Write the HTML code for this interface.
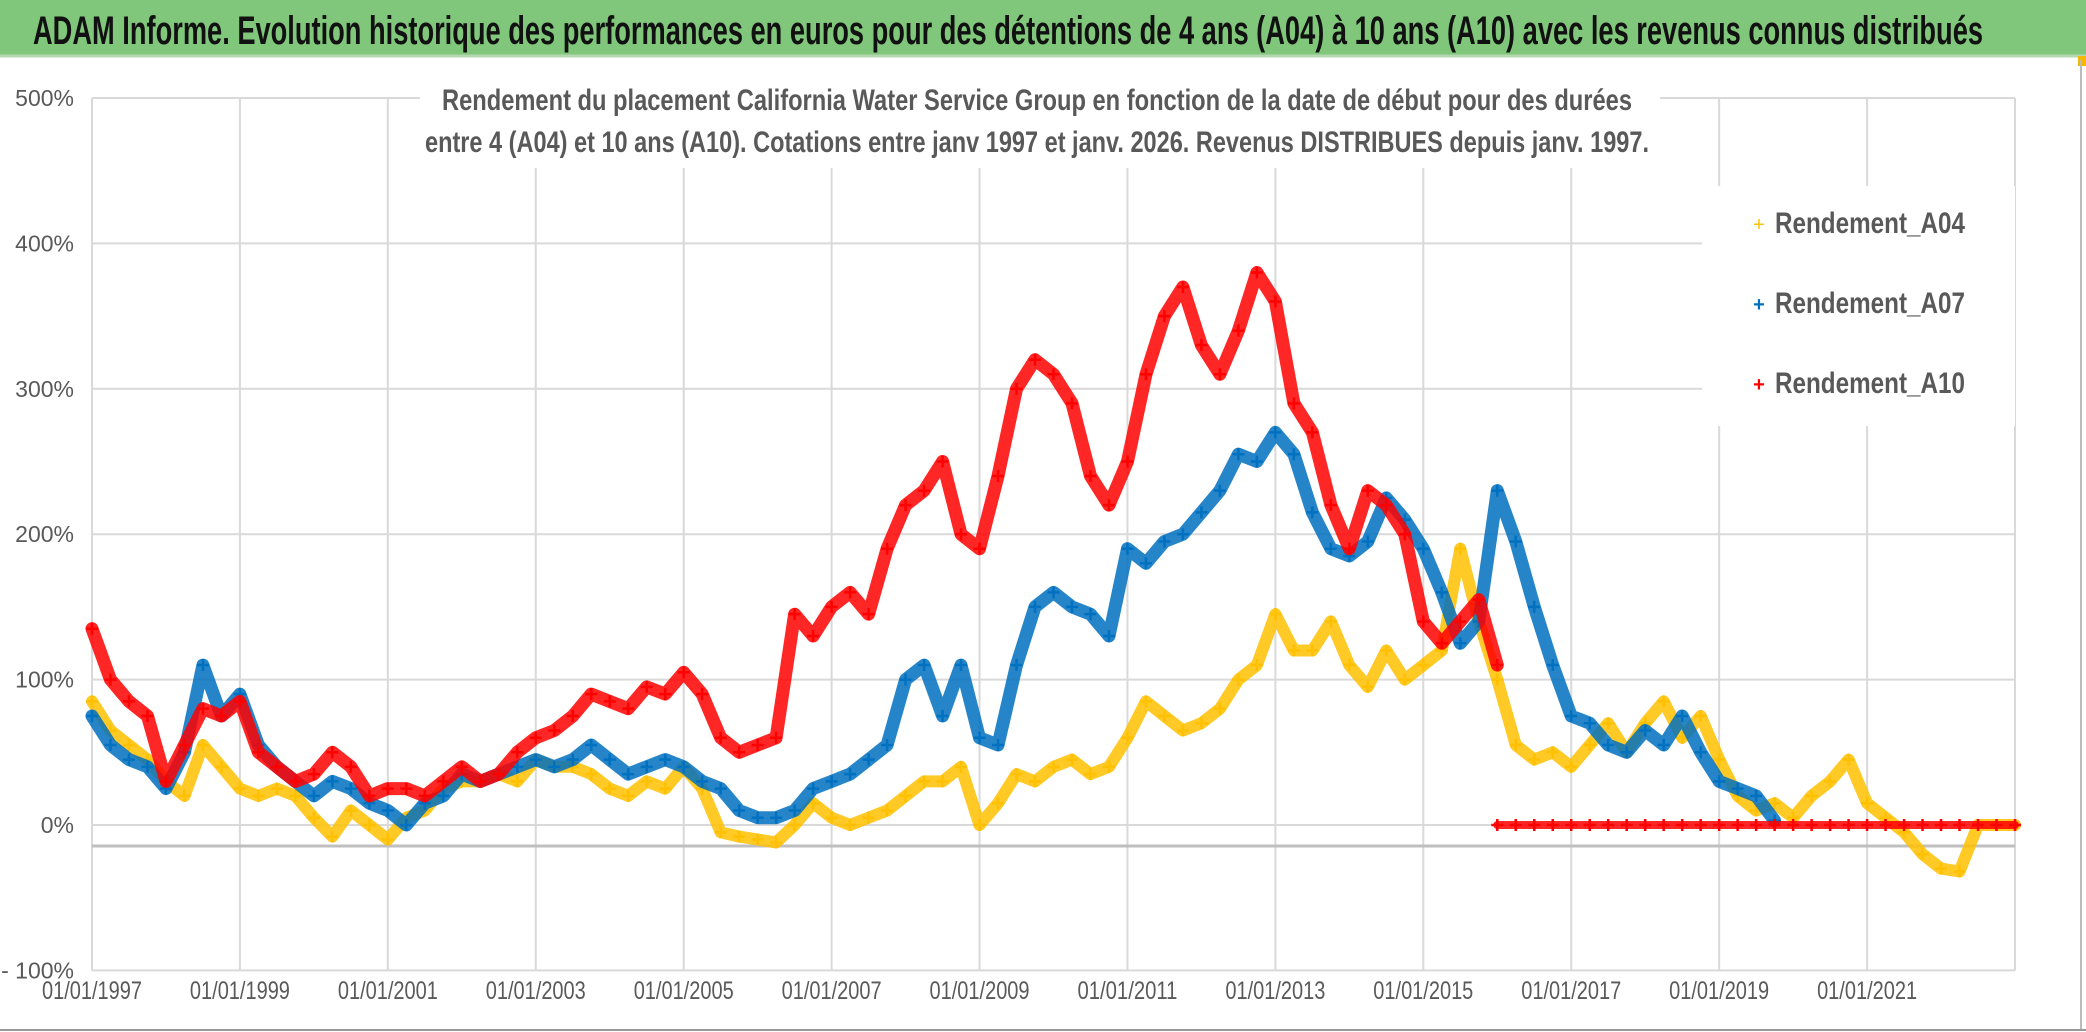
<!DOCTYPE html>
<html><head><meta charset="utf-8"><style>
html,body{margin:0;padding:0;background:#fff;}
svg{display:block;font-family:"Liberation Sans Narrow","Liberation Sans",sans-serif;}
</style></head><body>
<svg id="chart" width="2086" height="1032" viewBox="0 0 2086 1032">
<rect x="0" y="0" width="2086" height="1032" fill="#fff"/>
<rect x="0" y="0" width="2086" height="56" fill="#80c77b"/>
<line x1="0" y1="56" x2="2086" y2="56" stroke="#b5d8b0" stroke-width="3"/>
<rect x="2078" y="56" width="8" height="10" fill="#f5b800"/>
<text x="33" y="44" font-size="40" font-weight="bold" fill="#111" textLength="1950" lengthAdjust="spacingAndGlyphs">ADAM Informe. Evolution historique des performances en euros pour des détentions de 4 ans (A04) à 10 ans (A10) avec les revenus connus distribués</text>
<line x1="2081" y1="60" x2="2081" y2="1030" stroke="#bbb" stroke-width="2"/>
<line x1="0" y1="1030" x2="2086" y2="1030" stroke="#999" stroke-width="2"/>
<g id="grid"></g>
<g id="series"></g>
<rect x="1702" y="186" width="313" height="240" fill="#fff"/>
<rect x="420" y="78" width="1240" height="90" fill="#fff"/>
<text x="1037" y="110" font-size="30" font-weight="bold" fill="#595959" text-anchor="middle" textLength="1190" lengthAdjust="spacingAndGlyphs">Rendement du placement California Water Service Group en fonction de la date de début pour des durées</text>
<text x="1037" y="152" font-size="30" font-weight="bold" fill="#595959" text-anchor="middle" textLength="1224" lengthAdjust="spacingAndGlyphs">entre 4 (A04) et 10 ans (A10). Cotations entre janv 1997 et janv. 2026. Revenus DISTRIBUES depuis janv. 1997.</text>
<g>
<g><text x="1759" y="231" font-size="20" fill="#ffc000" text-anchor="middle">+</text><text x="1775" y="233" font-size="30" font-weight="bold" fill="#595959" textLength="190" lengthAdjust="spacingAndGlyphs">Rendement_A04</text></g>
<g><text x="1759" y="311" font-size="20" fill="#0070c0" text-anchor="middle" font-weight="bold">+</text><text x="1775" y="313" font-size="30" font-weight="bold" fill="#595959" textLength="190" lengthAdjust="spacingAndGlyphs">Rendement_A07</text></g>
<g><text x="1759" y="391" font-size="20" fill="#ff0000" text-anchor="middle" font-weight="bold">+</text><text x="1775" y="393" font-size="30" font-weight="bold" fill="#595959" textLength="190" lengthAdjust="spacingAndGlyphs">Rendement_A10</text></g>
</g>
</svg>
<script>
const yTicks = [-100, 0, 100, 200, 300, 400, 500];
const yTickLabels = ["- 100%", "0%", "100%", "200%", "300%", "400%", "500%"];
const xTicks = [1997, 1999, 2001, 2003, 2005, 2007, 2009, 2011, 2013, 2015, 2017, 2019, 2021];
const xTickLabels = ["01/01/1997","01/01/1999","01/01/2001","01/01/2003","01/01/2005","01/01/2007","01/01/2009","01/01/2011","01/01/2013","01/01/2015","01/01/2017","01/01/2019","01/01/2021"];
const startYear = 1997;
const stepYears = 0.25;
const a04 = [85,65,55,45, 30,20,55,40, 25,20,25,20, 5,-8,10,0, -10,5,10,25, 30,30,35,30, 45,40,40,35, 25,20,30,25, 40,25,-5,-8, -10,-12,0,15, 5,0,5,10, 20,30,30,40, 0,15,35,30, 40,45,35,40, 60,85,75,65, 70,80,100,110, 145,120,120,140, 110,95,120,100, 110,120,190,140, 100,55,45,50, 40,55,70,50, 70,85,60,75, 45,20,10,15, 5,20,30,45, 15,5,-5,-20, -30,-32,0,0,0];
const a07 = [75,55,45,40, 25,50,110,75, 90,55,40,30, 20,30,25,15, 10,0,15,20, 35,30,35,40, 45,40,45,55, 45,35,40,45, 40,30,25,10, 5,5,10,25, 30,35,45,55, 100,110,75,110, 60,55,110,150, 160,150,145,130, 190,180,195,200, 215,230,255,250, 270,255,215,190, 185,195,225,210, 190,160,125,140, 230,195,150,110, 75,70,55,50, 65,55,75,50, 30,25,20,3];
const a10 = [135,100,85,75, 30,55,80,75, 85,50,40,30, 35,50,40,20, 25,25,20,30, 40,30,35,50, 60,65,75,90, 85,80,95,90, 105,90,60,50, 55,60,145,130, 150,160,145,190, 220,230,250,200, 190,240,300,320, 310,290,240,220, 250,310,350,370, 330,310,340,380, 360,290,270,220, 190,230,220,200, 140,125,140,155, 110];
const a10Flat = [0,0,0,0, 0,0,0,0, 0,0,0,0, 0,0,0,0, 0,0,0,0, 0,0,0,0, 0,0,0,0, 0];
const a10FlatStart = 2016;

const NS = "http://www.w3.org/2000/svg";
const X0 = 92, X1 = 2015, Y0 = 825, PER100 = 145.4;
function xScale(yr){ return X0 + (yr - 1997) * (X1 - X0) / 26; }
function yScale(v){ return Y0 - v * PER100 / 100; }
const grid = document.getElementById('grid');
const series = document.getElementById('series');
function mk(tag, attrs, parent){ const e = document.createElementNS(NS, tag); for (const k in attrs) e.setAttribute(k, attrs[k]); parent.appendChild(e); return e; }

yTicks.forEach((t, i) => {
  const l = mk('line', {x1: X0, x2: X1, y1: yScale(t), y2: yScale(t), stroke: '#d9d9d9', 'stroke-width': 2}, grid);
  
  
  const tx = mk('text', {x: 74, y: yScale(t) + 8, 'font-size': 23, fill: '#595959', 'text-anchor': 'end'}, grid);
  tx.textContent = yTickLabels[i];
  
  
});
xTicks.forEach((t, i) => {
  const l = mk('line', {x1: xScale(t), x2: xScale(t), y1: yScale(500), y2: yScale(-100), stroke: '#d9d9d9', 'stroke-width': 2}, grid);
  
  
  const tx = mk('text', {x: xScale(t), y: 999, 'font-size': 25, fill: '#595959', 'text-anchor': 'middle', textLength: 100, lengthAdjust: 'spacingAndGlyphs'}, grid);
  tx.textContent = xTickLabels[i];
  
  
});
{
  const l = mk('line', {x1: xScale(2023), x2: xScale(2023), y1: yScale(500), y2: yScale(-100), stroke: '#d9d9d9', 'stroke-width': 2}, grid);
  
  
  const ax = mk('line', {x1: X0, x2: X1, y1: 846, y2: 846, stroke: '#bfbfbf', 'stroke-width': 3}, grid);
  
  
}

function drawSeries(vals, start, color, width, name){
  const g = mk('g', {}, series);
  
  
  const pts = vals.map((v, i) => xScale(start + i * stepYears).toFixed(1) + ',' + yScale(v).toFixed(1)).join(' ');
  const pl = mk('polyline', {points: pts, fill: 'none', stroke: color, 'stroke-width': width, 'stroke-linejoin': 'round', 'stroke-linecap': 'round', opacity: 0.85}, g);
  
  
  vals.forEach((v, i) => {
    const x = xScale(start + i * stepYears), y = yScale(v);
    const p = mk('path', {d: `M${x-6},${y}h12M${x},${y-6}v12`, stroke: color, 'stroke-width': 2.5}, g);
    
    
  });
}
drawSeries(a04, startYear, '#ffc000', 12, 'series-a04');
drawSeries(a07, startYear, '#0070c0', 13, 'series-a07');
drawSeries(a10, startYear, '#ff0000', 13, 'series-a10');
drawSeries(a10Flat, a10FlatStart, '#ff0000', 8, 'series-a10-flat');
</script>
</body></html>
